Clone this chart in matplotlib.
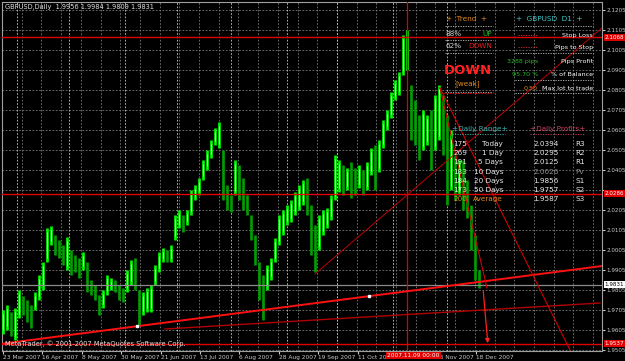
import numpy as np
import matplotlib
matplotlib.use("Agg")
import matplotlib.pyplot as plt
import matplotlib.transforms as mtransforms

# price bars (one bar per two trading days)
bar_high = [1.9705, 1.973, 1.9695, 1.9715, 1.9805, 1.9775, 1.9755, 1.973, 1.9795, 1.988,
            1.9945, 2.0115, 2.0125, 2.008, 2.0055, 2.003, 2.007, 2.0005, 1.998, 1.9965,
            1.9995, 1.9945, 1.9855, 1.983, 1.978, 1.9805, 1.988, 1.9865, 1.9855, 1.983,
            1.9815, 1.9905, 1.9955, 1.9965, 1.9805, 1.9795, 1.9815, 1.983, 1.993, 1.9995,
            2.0015, 2.0005, 2.003, 2.018, 2.0205, 2.018, 2.0205, 2.0305, 2.033, 2.0365,
            2.0455, 2.0505, 2.0555, 2.0615, 2.0645, 2.0505, 2.033, 2.028, 2.0455, 2.043,
            2.0365, 2.028, 2.018, 2.008, 1.9945, 1.988, 1.993, 1.9965, 2.0065, 2.018,
            2.0205, 2.023, 2.0255, 2.0295, 2.033, 2.0355, 2.0365, 2.023, 2.013, 2.018,
            2.0205, 2.0215, 2.028, 2.048, 2.0455, 2.043, 2.0415, 2.0445, 2.0415, 2.043,
            2.0405, 2.0445, 2.0515, 2.053, 2.0555, 2.0655, 2.0705, 2.0795, 2.0855, 2.0895,
            2.108, 2.1105, 2.083, 2.0755, 2.068, 2.0705, 2.068, 2.0705, 2.078, 2.083,
            2.078, 2.068, 2.0605, 2.048, 2.0455, 2.0455, 2.0355, 2.023, 2.008, 1.9905]
bar_low = [1.9585, 1.9605, 1.9575, 1.9555, 1.9665, 1.968, 1.9645, 1.9615, 1.9705, 1.9755,
           1.9805, 1.9945, 2.003, 1.998, 1.9965, 1.993, 1.9905, 1.988, 1.9895, 1.9865,
           1.9905, 1.9795, 1.978, 1.9755, 1.968, 1.9715, 1.978, 1.9805, 1.9795, 1.9755,
           1.9745, 1.9795, 1.983, 1.9805, 1.963, 1.968, 1.9695, 1.9695, 1.983, 1.9895,
           1.9945, 1.9945, 1.9945, 2.0055, 2.0115, 2.0095, 2.013, 2.018, 2.0255, 2.028,
           2.0355, 2.0405, 2.0465, 2.053, 2.0515, 2.0255, 2.0205, 2.0195, 2.028, 2.0255,
           2.0205, 2.018, 2.0055, 1.993, 1.9755, 1.9655, 1.9805, 1.9855, 1.9945, 2.003,
           2.008, 2.013, 2.0145, 2.018, 2.0205, 2.023, 2.018, 1.998, 1.9895, 2.0005,
           2.008, 2.0115, 2.0155, 2.0255, 2.0295, 2.028, 2.0305, 2.0265, 2.028, 2.0315,
           2.028, 2.0305, 2.038, 2.0305, 2.0395, 2.0515, 2.0605, 2.0665, 2.0755, 2.078,
           2.088, 2.0905, 2.0555, 2.053, 2.0455, 2.0505, 2.053, 2.0405, 2.0505, 2.0555,
           2.048, 2.023, 2.0305, 2.0255, 2.028, 2.0205, 2.0165, 2.0005, 1.9855, 1.9815]

title_text = "GBPUSD,Daily  1.9956 1.9984 1.9809 1.9831"
date_labels = ["23 Mar 2007", "16 Apr 2007", "8 May 2007", "30 May 2007", "21 Jun 2007",
               "13 Jul 2007", "6 Aug 2007", "28 Aug 2007", "19 Sep 2007", "11 Oct 2007",
               "", "26 Nov 2007", "18 Dec 2007"]
month_starts = [7, 33, 61, 87, 114, 142, 167, 195, 222]
price_grid = [1.9505 + 0.01 * k for k in range(18)]
hidden_price_labels = ["2.0305"]

red_levels = [2.1068, 2.0286, 1.9537]
bid_price = 1.9831
marked_day = 202
marked_label = "2007.11.09 00:00"

# trend lines: (day, price) anchors
support_main = [(-1.5, 1.9535), (299.5, 1.9925)]
support_second = [(81, 1.961), (298.5, 1.974)]
rise_line = [(156, 1.9885), (300, 2.112)]
fall_line = [(218.5, 2.0815), (283.5, 1.9505)]
steep_line = [(218.5, 2.0815), (242, 1.9815)]
arrow_line = [(240, 1.9815), (242.5, 1.9525)]

range_vals = ["175", "269", "191", "183", "184", "173", "200"]
range_names = ["Today", "1 Day", "5 Days", "10 Days", "20 Days", "50 Days", "Average"]
pivot_vals = ["2.0394", "2.0295", "2.0125", "2.0026", "1.9856", "1.9757", "1.9587"]
pivot_names = ["R3", "R2", "R1", "Pv", "S1", "S2", "S3"]

W, H = 625, 361
fig = plt.figure(figsize=(W / 100, H / 100), dpi=100, facecolor="black")
ax = fig.add_axes([2 / W, 1 - 351 / H, 600 / W, 349 / H], facecolor="black")
ax.set_xlim(-0.5, 299.5)
ax.set_ylim(1.95, 2.1245)

def px(x, y):
    return x / W, 1 - y / H

grid_kw = dict(color="#7a7a7a", lw=0.6, ls=(0, (2, 2)), zorder=1)
for p in price_grid:
    ax.axhline(p, **grid_kw)
for d in np.arange(-0.5, 299, 9.85):
    ax.axvline(d, **grid_kw)
for d in month_starts:
    ax.axvline(d, color="#cfcfcf", lw=0.6, ls=(0, (2, 2)), zorder=1)

# bars
days = np.arange(len(bar_high)) * 2
hi = np.array(bar_high)
lo = np.array(bar_low)
mid = (hi + lo) / 2
up = np.r_[True, np.diff(mid) >= 0]
ax.vlines(days[up], lo[up], hi[up], color="#00ff00", lw=1.9, zorder=3)
ax.vlines(days[~up], lo[~up], hi[~up], color="#00a000", lw=1.9, zorder=3)
ax.vlines(days[up], lo[up] + 0.002, hi[up] - 0.002, color="#b8ffb8", lw=0.7, zorder=4)

# horizontal levels
for lv in red_levels:
    ax.axhline(lv, color="#e00000", lw=1.0, zorder=5)
ax.axhline(bid_price, color="#8a8a8a", lw=0.9, zorder=5)
ax.axvline(marked_day, color="#e00000", lw=0.9, zorder=5)

def seg(pts, **kw):
    (x0, y0), (x1, y1) = pts
    ax.plot([x0, x1], [y0, y1], **kw)

seg(support_main, color="#ff1010", lw=1.4, zorder=6)
seg(support_second, color="#b00000", lw=1.0, zorder=6)
seg(rise_line, color="#c00000", lw=0.7, zorder=6)
seg(fall_line, color="#d00000", lw=0.8, zorder=6)
seg(steep_line, color="#d00000", lw=0.8, zorder=6)
ax.annotate("", xy=arrow_line[1], xytext=arrow_line[0],
            arrowprops=dict(arrowstyle="-|>", color="#ff2020", lw=0.9, mutation_scale=6), zorder=7)
for d in (67, 183):
    x0, y0 = support_main[0]
    x1, y1 = support_main[1]
    ax.plot(d, y0 + (y1 - y0) * (d - x0) / (x1 - x0), "s", color="white", ms=2, zorder=7)
ax.plot([220, 245], [2.079, 2.079], color="#d00000", lw=0.7, ls=(0, (2, 1)), zorder=6)

# axes styling
for s in ax.spines.values():
    s.set_color("#a0a0a0")
    s.set_linewidth(0.8)
ax.yaxis.tick_right()
ax.set_yticks(price_grid)
ax.set_yticklabels(["" if f"{p:.4f}" in hidden_price_labels else f"{p:.4f}" for p in price_grid])
ax.tick_params(axis="y", colors="#c8c8c8", labelsize=4.1, length=2, pad=1)
ax.set_xticks(np.arange(len(date_labels)) * 19.7)
ax.set_xticklabels(date_labels)
ax.tick_params(axis="x", colors="#c8c8c8", labelsize=4.2, length=2, pad=1)
for lbl in ax.get_xticklabels():
    lbl.set_ha("left")

ytr = mtransforms.blended_transform_factory(ax.transAxes, ax.transData)
for lv in red_levels:
    ax.text(1.004, lv, f"{lv:.4f}", transform=ytr, fontsize=4.1, color="white", va="center",
            bbox=dict(boxstyle="square,pad=0.15", fc="#e00000", ec="none"), zorder=10, clip_on=False)
ax.text(1.004, bid_price, f"{bid_price:.4f}", transform=ytr, fontsize=4.1, color="black", va="center",
        bbox=dict(boxstyle="square,pad=0.15", fc="white", ec="none"), zorder=10, clip_on=False)
xtr = mtransforms.blended_transform_factory(ax.transData, ax.transAxes)
ax.text(marked_day - 10, -0.006, marked_label, transform=xtr, fontsize=4.2, color="white", va="top",
        bbox=dict(boxstyle="square,pad=0.2", fc="#e00000", ec="none"), zorder=10, clip_on=False)

# texts
fig.text(*px(5, 7), title_text, fontsize=4.8, color="#e0e0e0", va="center")
fig.text(*px(5, 344), "MetaTrader, \u00a9 2001-2007 MetaQuotes Software Corp.", fontsize=4.8,
         color="#e0e0e0", va="center")

fs = 5.2
fig.text(*px(446, 19), "+  Trend  +", fontsize=fs, color="#e08a20", va="center")
fig.text(*px(516, 19), "+  GBPUSD  D1  +", fontsize=fs, color="#40c8c8", va="center")
fig.text(*px(446, 34), "88%", fontsize=fs, color="#d0d0d0", va="center")
fig.text(*px(492, 34), "UP", fontsize=fs, color="#20c020", va="center", ha="right")
fig.text(*px(446, 46), "62%", fontsize=fs, color="#d0d0d0", va="center")
fig.text(*px(492, 46), "DOWN", fontsize=fs, color="#e02020", va="center", ha="right")
fig.text(*px(468, 70), "DOWN", fontsize=9.5, color="#ff2020", va="center", ha="center",
         fontweight="bold", family=["Liberation Sans Narrow", "DejaVu Sans"])
fig.text(*px(468, 84), "[weak]", fontsize=fs, color="#e08a20", va="center", ha="center")

rt = 593
fs2 = 4.6
fig.text(*px(rt, 35), "Stop Loss", fontsize=fs2, color="white", va="center", ha="right")
fig.text(*px(rt, 47), "Pips to Stop", fontsize=fs2, color="white", va="center", ha="right")
fig.text(*px(rt, 62), "Pips Profit", fontsize=fs2, color="white", va="center", ha="right")
fig.text(*px(rt, 74), "% of Balance", fontsize=fs2, color="white", va="center", ha="right")
fig.text(*px(rt, 88), "Max lot to trade", fontsize=fs2, color="white", va="center", ha="right")
fig.text(*px(538, 62), "3288 pips", fontsize=fs2, color="#20c020", va="center", ha="right")
fig.text(*px(538, 74), "95.70 %", fontsize=fs2, color="#20c020", va="center", ha="right")
fig.text(*px(538, 88), "0.50", fontsize=fs2, color="#e08a20", va="center", ha="right")

def hline_px(x0, x1, y, color, ls=(0, (1.5, 1.5)), lw=0.6):
    fig.add_artist(plt.Line2D([x0 / W, x1 / W], [1 - y / H, 1 - y / H], color=color, lw=lw, ls=ls))

hline_px(445, 493, 26, "#c0c0c0")
hline_px(515, 593, 26, "#c0c0c0")
hline_px(445, 493, 40, "#c0c0c0")
hline_px(445, 493, 53, "#c0c0c0")
hline_px(518, 538, 35, "#e03030")
hline_px(518, 538, 47, "#e03030")
hline_px(515, 593, 53, "#c0c0c0")
hline_px(515, 593, 80, "#c0c0c0")
hline_px(515, 593, 93, "#c0c0c0")
hline_px(445, 493, 92, "#c0c0c0")

fig.text(*px(452, 129), "+Daily Range+", fontsize=fs, color="#40b0b0", va="center")
fig.text(*px(530, 129), "+Daily Profits+", fontsize=fs, color="#d04060", va="center")
hline_px(452, 505, 134, "#40b0b0")
hline_px(530, 585, 134, "#d04060")
for k in range(7):
    y = 144 + 9.2 * k
    c_num = "#e08a20" if k == 6 else "#e8e8e8"
    fig.text(*px(453, y), range_vals[k], fontsize=fs, color=c_num, va="center")
    fig.text(*px(503, y), range_names[k], fontsize=fs, color=c_num, va="center", ha="right")
    c_piv = "#909090" if k == 3 else "#e8e8e8"
    fig.text(*px(533, y), pivot_vals[k], fontsize=fs, color=c_piv, va="center")
    fig.text(*px(575, y), pivot_names[k], fontsize=fs, color=c_piv, va="center")

fig.savefig("out.png", dpi=100, facecolor="black")
